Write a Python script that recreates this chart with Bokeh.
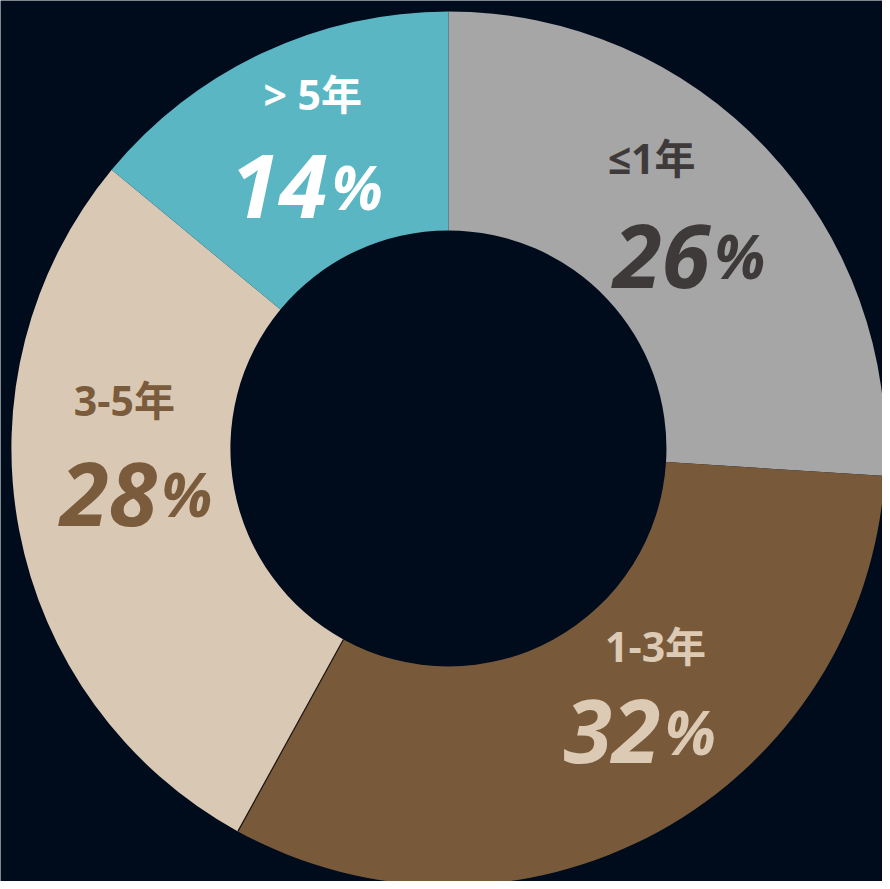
import numpy as np
from bokeh.plotting import figure
from bokeh.models import Range1d, ColumnDataSource
from bokeh.core.properties import value
from bokeh.embed import file_html
from bokeh.resources import INLINE

# ---- data ----
categories = ["≤1年", "1-3年", "3-5年", "> 5年"]
shares = [26, 32, 28, 14]
percent_text = ["26", "32", "28", "14"]

# ---- styles ----
BG = "#000c1c"
slice_colors = ["#a6a6a6", "#785a3b", "#d9c8b3", "#5bb6c4"]
text_colors = ["#3e3a3a", "#dccab4", "#7a5b3b", "#ffffff"]

W, H = 882, 881
REF_W, REF_H = 890, 889  # layout coordinate frame (y measured downward for positions below)

cx, cy = 452, REF_H - 452
r_in, r_out = 220, 441

# label anchor positions (frame px): category label centres, split between number and "%", and baseline
label_pos = [(657, 159), (661, 651), (125, 403), (315, 94)]
num_pos = [(718, 258), (668, 738), (160, 498), (332, 188)]

total = float(sum(shares))
frac = np.array(shares) / total
cum = np.concatenate([[0.0], np.cumsum(frac)])
start = np.pi / 2 - 2 * np.pi * cum[:-1]
end = np.pi / 2 - 2 * np.pi * cum[1:]

src = ColumnDataSource(dict(start=start, end=end, color=slice_colors, cat=categories))

p = figure(width=W, height=H, x_range=Range1d(0, REF_W), y_range=Range1d(0, REF_H),
           output_backend="svg", toolbar_location=None, min_border=0)
p.background_fill_color = BG
p.border_fill_color = BG
p.outline_line_color = None
p.axis.visible = False
p.grid.visible = False

p.annular_wedge(x=cx, y=cy, inner_radius=r_in, outer_radius=r_out,
                start_angle="start", end_angle="end", direction="clock",
                fill_color="color", line_color=None, source=src)

# thin dark separator between 1-3年 and 3-5年
a = end[1]
p.segment(x0=[cx + r_in * np.cos(a)], y0=[cy + r_in * np.sin(a)],
          x1=[cx + r_out * np.cos(a)], y1=[cy + r_out * np.sin(a)],
          line_color="#1a1410", line_width=1.2)

lab_src = ColumnDataSource(dict(
    x=[q[0] for q in label_pos], y=[REF_H - q[1] for q in label_pos],
    text=categories, color=text_colors))
p.text(x="x", y="y", text="text", text_color="color", source=lab_src,
       text_align="center", text_baseline="middle",
       text_font=value("'Open Sans', 'DejaVu Sans', 'Noto Sans CJK SC'"),
       text_font_style="bold", text_font_size="41px")

num_src = ColumnDataSource(dict(
    x=[q[0] - 2 for q in num_pos], xp=[q[0] + 2 for q in num_pos],
    y=[REF_H - q[1] for q in num_pos],
    text=percent_text, pct=["%"] * len(percent_text), color=text_colors))
p.text(x="x", y="y", text="text", text_color="color", source=num_src,
       text_align="right", text_baseline="alphabetic",
       text_font=value("Open Sans"), text_font_style="bold italic", text_font_size="88px")
p.text(x="xp", y="y", text="pct", text_color="color", source=num_src,
       text_align="left", text_baseline="alphabetic",
       text_font=value("Open Sans"), text_font_style="bold italic", text_font_size="60px")

html = file_html(p, INLINE)
html = html.replace("<body>", '<body style="background-color:%s;">' % BG, 1)
open("out.html", "w").write(html)
